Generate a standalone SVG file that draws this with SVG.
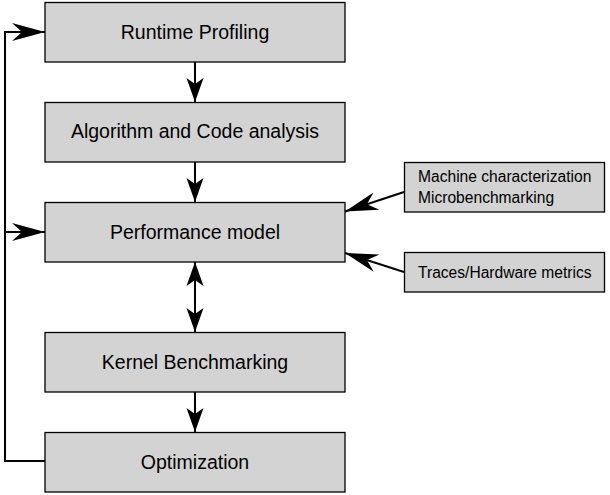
<svg xmlns="http://www.w3.org/2000/svg" width="610" height="495" viewBox="0 0 610 495">
<style>
.box{fill:#d3d3d3;stroke:#000;stroke-width:1.3}
.t{font-family:"Liberation Sans",Arial,sans-serif;font-size:19.5px;fill:#000;text-anchor:middle}
.s{font-family:"Liberation Sans",Arial,sans-serif;font-size:15.6px;fill:#000}
.c{fill:none;stroke:#000;stroke-width:2}
</style>
<defs>
<marker id="av" markerUnits="userSpaceOnUse" markerWidth="26" markerHeight="20" viewBox="0 0 26 20" refX="24" refY="10" orient="auto-start-reverse">
<path d="M0,1.5 L24,10 L0,18.5 L6,10 Z" fill="#000"/>
</marker>
<marker id="ah" markerUnits="userSpaceOnUse" markerWidth="34" markerHeight="20" viewBox="0 0 34 20" refX="33" refY="10" orient="auto">
<path d="M0,1 L33,10 L0,19 L10,10 Z" fill="#000"/>
</marker>
</defs>
<g id="connectors">
<line class="c" x1="195" y1="62" x2="195" y2="102" marker-end="url(#av)"/>
<line class="c" x1="195" y1="162" x2="195" y2="202" marker-end="url(#av)"/>
<line class="c" x1="195" y1="262" x2="195" y2="332" marker-start="url(#av)" marker-end="url(#av)"/>
<line class="c" x1="195" y1="392" x2="195" y2="432" marker-end="url(#av)"/>
<polyline class="c" points="45,461 5,461 5,32 45,32" marker-end="url(#ah)"/>
<line class="c" x1="5" y1="232" x2="45" y2="232" marker-end="url(#ah)"/>
<line class="c" x1="404" y1="192" x2="345" y2="211.5" marker-end="url(#ah)"/>
<line class="c" x1="404" y1="272" x2="345" y2="253" marker-end="url(#ah)"/>
</g>
<g id="runtime"><rect class="box" x="45" y="2.5" width="300" height="59.5"/><text class="t" x="195" y="38.5">Runtime Profiling</text></g>
<g id="algorithm"><rect class="box" x="45" y="102.5" width="300" height="59.5"/><text class="t" x="195" y="137.5">Algorithm and Code analysis</text></g>
<g id="perfmodel"><rect class="box" x="45" y="202.5" width="300" height="59.5"/><text class="t" x="195" y="238.5">Performance model</text></g>
<g id="kernel"><rect class="box" x="45" y="332.5" width="300" height="59.5"/><text class="t" x="195" y="368.5">Kernel Benchmarking</text></g>
<g id="optimization"><rect class="box" x="45" y="432.5" width="300" height="59.5"/><text class="t" x="195" y="468.5">Optimization</text></g>
<g id="machine"><rect class="box" x="404.5" y="162.5" width="200" height="49.5"/><text class="s" x="418" y="181.5">Machine characterization</text><text class="s" x="418" y="202.5">Microbenchmarking</text></g>
<g id="traces"><rect class="box" x="404.5" y="252.5" width="200" height="39.5"/><text class="s" x="418" y="278">Traces/Hardware metrics</text></g>
</svg>
